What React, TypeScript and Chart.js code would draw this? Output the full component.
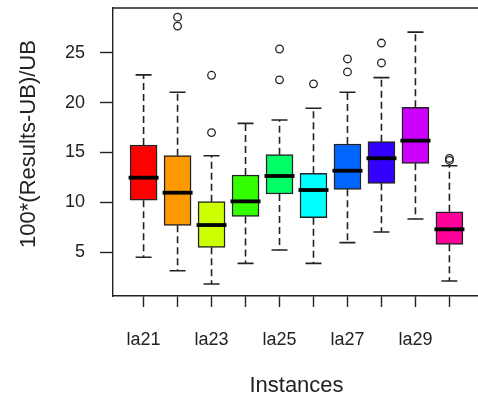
import React, { useEffect, useRef } from "react";
import { Chart, registerables } from "chart.js";

Chart.register(...registerables);

const categories = ["la21", "la22", "la23", "la24", "la25", "la26", "la27", "la28", "la29", "la30"];
const lowerWhisker = [4.47, 3.12, 1.78, 3.86, 5.2, 3.86, 5.94, 7.01, 8.32, 2.09];
const q1 = [10.2, 7.68, 5.47, 8.58, 10.83, 8.45, 11.3, 11.9, 13.91, 5.77];
const median = [12.47, 10.96, 7.71, 10.09, 12.64, 11.23, 13.17, 14.42, 16.19, 7.28];
const q3 = [15.75, 14.68, 10.06, 12.74, 14.78, 12.91, 15.85, 16.09, 19.54, 9.05];
const upperWhisker = [22.8, 21.05, 14.68, 17.93, 18.27, 19.44, 21.05, 22.52, 27.1, 13.67];
const outliers: number[][] = [
  [],
  [27.7, 28.6],
  [17.0, 22.76],
  [],
  [22.3, 25.4],
  [21.9],
  [23.1, 24.4],
  [24.0, 26.0],
  [],
  [14.2, 14.4],
];
const boxColors = ["#FF0000", "#FF9900", "#CCFF00", "#33FF00", "#00FF66", "#00FFFF", "#0066FF", "#3300FF", "#CC00FF", "#FF0099"];
const yTicks = [5, 10, 15, 20, 25];
const yTitle = "100*(Results-UB)/UB";
const xTitle = "Instances";

const FONT = "'Liberation Sans', Arial, sans-serif";
const INK = "#222";

const boxPlugin = {
  id: "boxExtras",
  beforeDatasetsDraw(chart: any) {
    const { ctx, scales } = chart;
    const xs = scales.x;
    const ys = scales.y;
    ctx.save();
    ctx.strokeStyle = INK;
    ctx.lineWidth = 1.6;
    categories.forEach((_, i) => {
      const x = xs.getPixelForValue(i + 1);
      const yQ1 = ys.getPixelForValue(q1[i]);
      const yQ3 = ys.getPixelForValue(q3[i]);
      const yLo = ys.getPixelForValue(lowerWhisker[i]);
      const yHi = ys.getPixelForValue(upperWhisker[i]);
      ctx.setLineDash([7, 4]);
      ctx.beginPath();
      ctx.moveTo(x, yQ3);
      ctx.lineTo(x, yHi);
      ctx.moveTo(x, yQ1);
      ctx.lineTo(x, yLo);
      ctx.stroke();
      ctx.setLineDash([]);
      ctx.beginPath();
      ctx.moveTo(x - 8, yHi);
      ctx.lineTo(x + 8, yHi);
      ctx.moveTo(x - 8, yLo);
      ctx.lineTo(x + 8, yLo);
      ctx.stroke();
    });
    ctx.restore();
  },
  afterDatasetsDraw(chart: any) {
    const { ctx, scales, chartArea } = chart;
    const xs = scales.x;
    const ys = scales.y;
    ctx.save();
    ctx.strokeStyle = "#000";
    ctx.lineWidth = 3.8;
    categories.forEach((_, i) => {
      const x = xs.getPixelForValue(i + 1);
      const ym = ys.getPixelForValue(median[i]);
      ctx.beginPath();
      ctx.moveTo(x - 15, ym);
      ctx.lineTo(x + 15, ym);
      ctx.stroke();
    });
    ctx.strokeStyle = INK;
    ctx.lineWidth = 1.4;
    ctx.beginPath();
    ctx.moveTo(chartArea.left, chartArea.top);
    ctx.lineTo(chartArea.right, chartArea.top);
    ctx.lineTo(chartArea.right, chartArea.bottom);
    ctx.stroke();
    ctx.fillStyle = INK;
    ctx.font = `22px ${FONT}`;
    ctx.textAlign = "center";
    ctx.textBaseline = "middle";
    ctx.translate(29, 144);
    ctx.rotate(-Math.PI / 2);
    ctx.fillText(yTitle, 0, 0);
    ctx.restore();
  },
};

const zeroPad = (s: any) => {
  s.paddingTop = 0;
  s.paddingBottom = 0;
  s.paddingLeft = 0;
  s.paddingRight = 0;
};

export default function App() {
  const ref = useRef<HTMLCanvasElement>(null);
  useEffect(() => {
    if (!ref.current) return;
    const boxData = q1.map((v, i) => ({ x: i + 1, y: [v, q3[i]] }));
    const outData: { x: number; y: number }[] = [];
    outliers.forEach((arr, i) => arr.forEach((v) => outData.push({ x: i + 1, y: v })));
    const chart = new Chart(ref.current, {
      type: "bar",
      data: {
        datasets: [
          {
            type: "bar",
            data: boxData as any,
            backgroundColor: boxColors,
            borderColor: INK,
            borderWidth: 1.5,
            borderSkipped: false,
            barThickness: 27,
            grouped: false,
          } as any,
          {
            type: "scatter",
            data: outData as any,
            pointRadius: 3.8,
            pointBorderWidth: 1.3,
            pointBackgroundColor: "rgba(0,0,0,0)",
            pointBorderColor: INK,
            pointStyle: "circle",
          } as any,
        ],
      },
      options: {
        animation: false,
        responsive: false,
        devicePixelRatio: 1,
        layout: { padding: { top: 8, right: 12, left: 0, bottom: 0 } },
        plugins: { legend: { display: false }, tooltip: { enabled: false } },
        scales: {
          x: {
            type: "linear",
            offset: false,
            min: 0.1,
            max: 10.9,
            afterBuildTicks: (s: any) => {
              s.ticks = categories.map((_, i) => ({ value: i + 1 }));
            },
            afterFit: (s: any) => {
              s.height = 111;
              zeroPad(s);
            },
            ticks: {
              autoSkip: false,
              maxRotation: 0,
              padding: 22,
              color: INK,
              font: { family: FONT, size: 18 },
              callback: (v: any) => {
                const i = Math.round(Number(v)) - 1;
                return i % 2 === 0 ? categories[i] : "";
              },
            },
            grid: {
              offset: false,
              drawOnChartArea: false,
              drawTicks: true,
              tickLength: 11,
              tickColor: INK,
              tickWidth: 1.4,
            },
            border: { display: true, color: INK, width: 1.4 },
            title: {
              display: true,
              text: xTitle,
              color: INK,
              font: { family: FONT, size: 22 },
              padding: { top: 0, bottom: 8 },
            },
          },
          y: {
            type: "linear",
            min: 0.58,
            max: 29.52,
            afterBuildTicks: (s: any) => {
              s.ticks = yTicks.map((v) => ({ value: v }));
            },
            afterFit: (s: any) => {
              s.width = 113;
              zeroPad(s);
            },
            ticks: {
              padding: 15,
              color: INK,
              font: { family: FONT, size: 18 },
            },
            grid: {
              drawOnChartArea: false,
              drawTicks: true,
              tickLength: 13,
              tickColor: INK,
              tickWidth: 1.4,
            },
            border: { display: true, color: INK, width: 1.4 },
          },
        },
      } as any,
      plugins: [boxPlugin],
    });
    return () => chart.destroy();
  }, []);
  return (
    <div
      style={{
        position: "fixed",
        left: 0,
        top: 0,
        width: 478,
        height: 407,
        overflow: "hidden",
        background: "#fff",
      }}
    >
      <canvas ref={ref} width={492} height={407} style={{ display: "block", width: 492, height: 407 }} />
    </div>
  );
}
